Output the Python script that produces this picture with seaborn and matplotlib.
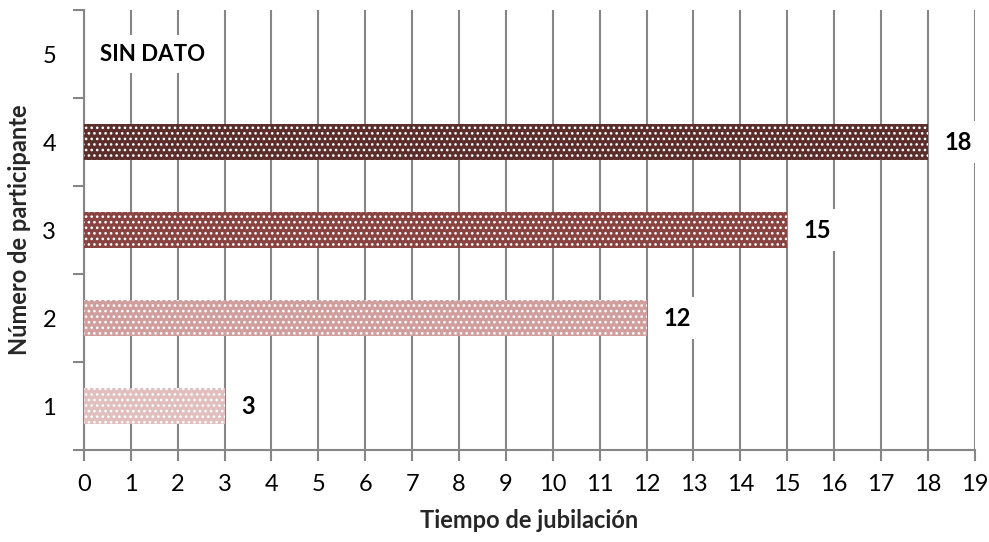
import matplotlib
matplotlib.use("Agg")
import matplotlib.pyplot as plt
import seaborn as sns
import pandas as pd
import numpy as np

# Data
participants = ["5", "4", "3", "2", "1"]
years = [np.nan, 18, 15, 12, 3]
bar_colors = ["#FFFFFF", "#632523", "#953735", "#D99694", "#E6B9B8"]
x_ticks = list(range(0, 20))
missing_label = "SIN DATO"

sns.set_theme(style="white")
plt.rcParams["font.family"] = ["Lato", "DejaVu Sans"]
plt.rcParams["hatch.linewidth"] = 1.1

df = pd.DataFrame({"participante": participants, "tiempo": years})

fig = plt.figure(figsize=(9.89, 5.42), dpi=100)
ax = fig.add_axes([0.0849, 0.1697, 0.9006, 0.8118])

grid_col = "#868686"

sns.barplot(
    data=df, x="tiempo", y="participante", order=participants,
    hue="participante", hue_order=participants, palette=bar_colors,
    orient="h", width=0.4, legend=False, ax=ax, zorder=3,
)
for patch in ax.patches:
    patch.set_hatch("...")
    patch.set_edgecolor("white")
    patch.set_linewidth(0)

ax.set_xlim(0, 19)
ax.set_ylim(4.5, -0.5)
ax.set_xticks(x_ticks)
ax.set_xticklabels([str(t) for t in x_ticks])

# Category boundaries carry the tick marks; labels sit at the centres
ax.set_yticks(np.arange(-0.5, len(participants), 1.0))
ax.set_yticklabels([])
ax.set_yticks(np.arange(len(participants)), minor=True)
ax.set_yticklabels(participants, minor=True)
ax.tick_params(axis="y", which="major", length=8, width=1.5, color=grid_col, left=True)
ax.tick_params(axis="y", which="minor", length=0, pad=20, labelsize=17, labelcolor="#000000")
ax.tick_params(axis="x", which="major", length=8, width=1.5, color=grid_col, bottom=True,
               labelsize=17, labelcolor="#000000", pad=9)

ax.grid(axis="x", color=grid_col, linewidth=1.5, zorder=0)
ax.grid(axis="y", visible=False)
ax.set_axisbelow(True)

for side in ["top", "right"]:
    ax.spines[side].set_visible(False)
for side in ["left", "bottom"]:
    ax.spines[side].set_color(grid_col)
    ax.spines[side].set_linewidth(1.5)

# Value labels
for i, v in enumerate(years):
    if np.isnan(v):
        ax.text(1.47, i, missing_label, ha="center", va="center", fontsize=16,
                fontweight="bold", color="#000000", zorder=5,
                bbox=dict(boxstyle="square,pad=0.4", fc="white", ec="none"))
    else:
        ax.annotate(f"{int(v)}", xy=(v, i), xytext=(12, 0), textcoords="offset points",
                    ha="left", va="center", fontsize=17, fontweight="bold",
                    color="#000000", zorder=5,
                    bbox=dict(boxstyle="square,pad=0.4", fc="white", ec="none"))

ax.set_xlabel("Tiempo de jubilación", fontsize=17, fontweight="bold", labelpad=10)
ax.set_ylabel("Número de participante", fontsize=17, fontweight="bold", labelpad=8)

fig.savefig("out.png", dpi=100)
